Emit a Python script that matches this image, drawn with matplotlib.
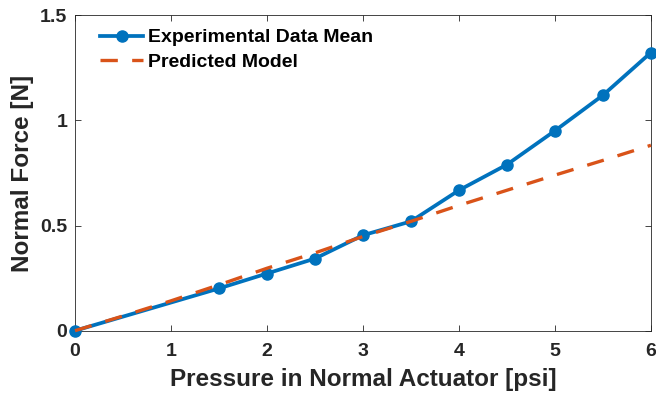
import matplotlib
matplotlib.use("Agg")
import matplotlib.pyplot as plt

exp_x = [0, 1.5, 2, 2.5, 3, 3.5, 4, 4.5, 5, 5.5, 6]
exp_y = [0, 0.201, 0.272, 0.343, 0.454, 0.52, 0.668, 0.79, 0.951, 1.12, 1.323]

model_x = [0, 0.5, 1, 1.5, 2, 2.5, 3, 3.5, 4, 4.5, 5, 5.5, 6]
model_y = [0, 0.07, 0.142, 0.218, 0.297, 0.37, 0.448, 0.52, 0.596, 0.668, 0.74, 0.81, 0.882]

xticks = [0, 1, 2, 3, 4, 5, 6]
yticks = [0, 0.5, 1, 1.5]
yticklabels = ["0", "0.5", "1", "1.5"]

plt.rcParams['font.family'] = ['Liberation Sans', 'DejaVu Sans']
plt.rcParams['font.weight'] = 'bold'

fig = plt.figure(figsize=(6.56, 4.03), dpi=100)
ax = fig.add_axes([0.1143, 0.1794, 0.878, 0.7826])

blue = '#0072BD'
orange = '#D95319'
ax.plot(exp_x, exp_y, '-o', color=blue, lw=2.7, ms=8, mew=1, label='Experimental Data Mean',
        clip_on=False, zorder=3)
ax.plot(model_x, model_y, '--', color=orange, lw=2.4, dashes=(5.2, 4.3), label='Predicted Model',
        clip_on=False, zorder=4)

ax.set_xlim(0, 6)
ax.set_ylim(0, 1.5)
ax.set_xticks(xticks)
ax.set_yticks(yticks)
ax.set_yticklabels(yticklabels)
ax.tick_params(direction='in', length=4, width=0.6, labelsize=14, colors='#262626',
               top=True, right=True)
ax.tick_params(axis='x', pad=8.5)
ax.tick_params(axis='y', pad=5.5)
for lab in ax.get_xticklabels() + ax.get_yticklabels():
    lab.set_fontweight('bold')
for s in ax.spines.values():
    s.set_linewidth(0.6)
    s.set_color('#262626')

ax.set_xlabel('Pressure in Normal Actuator [psi]', fontsize=17.5, fontweight='bold', color='#262626', labelpad=5.8)
ax.set_ylabel('Normal Force [N]', fontsize=17.5, fontweight='bold', color='#262626', labelpad=4.5)

leg = ax.legend(loc='upper left', bbox_to_anchor=(0.034, 0.976), borderaxespad=0.0, frameon=False,
                fontsize=14, handlelength=2.2, handletextpad=0.26, labelspacing=0.36, borderpad=0.3)
for t in leg.get_texts():
    t.set_fontweight('bold')
    t.set_color('black')

fig.savefig('out.png', dpi=100)
